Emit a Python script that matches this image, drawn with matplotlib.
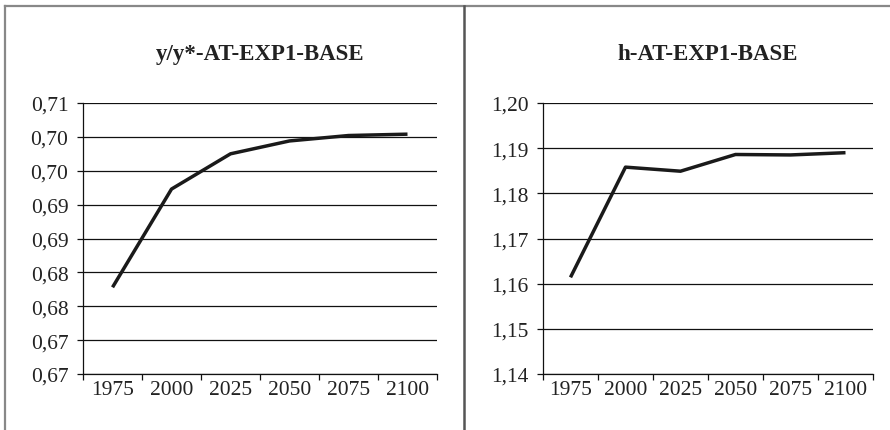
import matplotlib
matplotlib.use("Agg")
import matplotlib.pyplot as plt
from matplotlib.lines import Line2D

years = ["1975", "2000", "2025", "2050", "2075", "2100"]
y_ratio = [0.6778, 0.6923, 0.6975, 0.6994, 0.7002, 0.7004]
h_vals = [1.1614, 1.1858, 1.1849, 1.1886, 1.1885, 1.1890]

title_left = "y/y*-AT-EXP1-BASE"
title_right = "h-AT-EXP1-BASE"

plt.rcParams['font.family'] = ['Liberation Serif', 'DejaVu Serif']


def comma_fmt(v, pos=None):
    # excel-style half-up rounding to two decimals, comma separator
    n = int(round(v * 1000))
    h = (n + 5) // 10
    return "%d,%02d" % (h // 100, h % 100)


def draw_panel(ax, vals, ymin, ymax, step, title):
    x = list(range(len(vals)))
    ax.plot(x, vals, color="#1a1a1a", lw=2.5, solid_capstyle="butt", zorder=3)
    n = int(round((ymax - ymin) / step))
    yt = [ymin + i * step for i in range(n + 1)]
    ax.set_ylim(ymin, ymax)
    ax.set_yticks(yt)
    ax.yaxis.set_major_formatter(plt.FuncFormatter(comma_fmt))
    ax.grid(axis="y", color="#111111", lw=0.9)
    ax.set_axisbelow(True)
    ax.set_xlim(-0.5, len(vals) - 0.5)
    ax.set_xticks([i - 0.5 for i in range(len(vals) + 1)])
    ax.set_xticklabels([])
    ax.set_xticks(x, minor=True)
    ax.set_xticklabels(years, minor=True)
    ax.tick_params(axis="x", which="major", length=4.5, width=0.9, color="#111111")
    ax.tick_params(axis="x", which="minor", length=0, pad=4, labelsize=15.5, labelcolor="#222222")
    ax.tick_params(axis="y", length=4.5, width=0.9, color="#111111", labelsize=15.5,
                   labelcolor="#222222", pad=6)
    for s in ["top", "right"]:
        ax.spines[s].set_visible(False)
    for s in ["left", "bottom"]:
        ax.spines[s].set_color("#111111")
        ax.spines[s].set_linewidth(0.9)
    ax.set_title(title, fontsize=16.5, fontweight="bold", color="#222222", pad=31.5)


fig = plt.figure(figsize=(8.9, 4.31), dpi=100)
ax1 = fig.add_axes([0.0933, 0.1299, 0.3977, 0.6288])
ax2 = fig.add_axes([0.6101, 0.1299, 0.3708, 0.6288])

draw_panel(ax1, y_ratio, 0.665, 0.705, 0.005, title_left)
draw_panel(ax2, h_vals, 1.14, 1.20, 0.01, title_right)

# frame lines around the two panels
fig.add_artist(Line2D([4.5 / 890, 1.0], [1 - 6.5 / 431] * 2, transform=fig.transFigure,
                      color="#888888", lw=1.6))
fig.add_artist(Line2D([4.5 / 890] * 2, [0, 1 - 6.5 / 431], transform=fig.transFigure,
                      color="#888888", lw=1.6))
fig.add_artist(Line2D([464 / 890] * 2, [0, 1 - 6.5 / 431], transform=fig.transFigure,
                      color="#555555", lw=1.8))

fig.savefig("out.png", dpi=100)
